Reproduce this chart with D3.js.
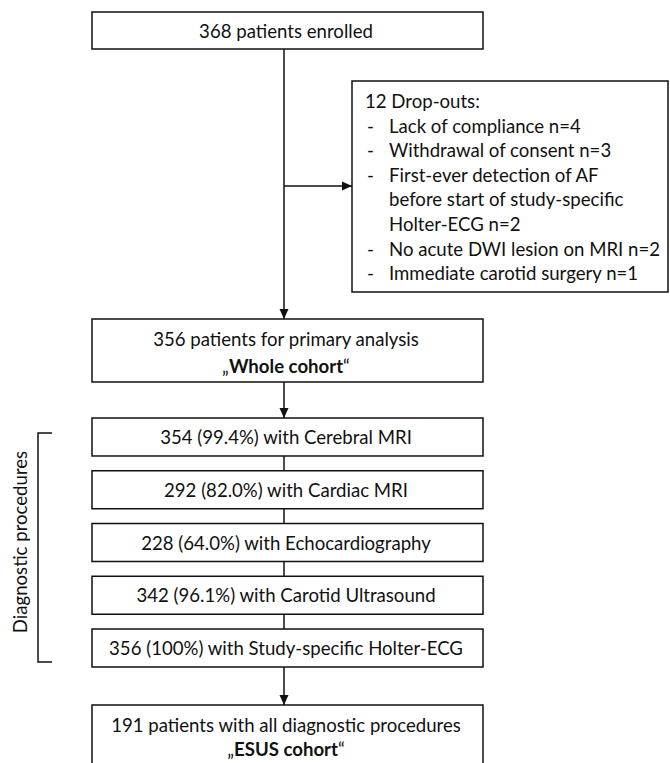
<!DOCTYPE html>
<meta charset="utf-8">
<style>
  body { margin: 0; background: #fff; }
  svg text { font-family: Lato, "Open Sans", sans-serif; fill: #111; }
</style>
<body>
<div class="chart"></div>
<script src="https://cdn.jsdelivr.net/npm/d3@7"></script>
<script>
// flowchart content
const enrolled = "368 patients enrolled";
const dropTitle = "12 Drop-outs:";
const dropReasons = [
    ["Lack of compliance n=4"],
    ["Withdrawal of consent n=3"],
    ["First-ever detection of AF", "before start of study-specific", "Holter-ECG n=2"],
    ["No acute DWI lesion on MRI n=2"],
    ["Immediate carotid surgery n=1"]
];
const primary = ["356 patients for primary analysis", "Whole cohort"];
const diagCounts = [354, 292, 228, 342, 356];
const diagPercents = ["99.4%", "82.0%", "64.0%", "96.1%", "100%"];
const diagLabels = ["Cerebral MRI", "Cardiac MRI", "Echocardiography", "Carotid Ultrasound", "Study-specific Holter-ECG"];
const bracketLabel = "Diagnostic procedures";
const esus = ["191 patients with all diagnostic procedures", "ESUS cohort"];

const width = 670, height = 763;
const fontSize = 18.6;
const boxLeft = 92, boxRight = 483;
const cx = 284;

const svg = d3.select(".chart").append("svg")
    .attr("width", width)
    .attr("height", height);

svg.append("defs").append("marker")
    .attr("id", "arrow")
    .attr("viewBox", "0 0 10 10")
    .attr("refX", 10).attr("refY", 5)
    .attr("markerWidth", 10).attr("markerHeight", 10)
    .attr("markerUnits", "userSpaceOnUse")
    .attr("orient", "auto")
    .append("path")
    .attr("d", "M0,0.5L10,5L0,9.5Z")
    .attr("fill", "#111");

const lines = svg.append("g").attr("stroke", "#111").attr("stroke-width", 1.5).attr("fill", "none");
const boxes = svg.append("g");

function box(x0, y0, x1, y1) {
    boxes.append("rect")
        .attr("x", x0).attr("y", y0)
        .attr("width", x1 - x0).attr("height", y1 - y0)
        .attr("fill", "#fff").attr("stroke", "#111").attr("stroke-width", 1.5);
}
function centerText(y, str, bold) {
    const t = boxes.append("text")
        .attr("x", cx + 2).attr("y", y)
        .attr("text-anchor", "middle")
        .attr("dominant-baseline", "central")
        .style("font-size", fontSize + "px");
    if (bold) {
        t.append("tspan").text("\u201E");
        t.append("tspan").style("font-weight", "bold").text(str);
        t.append("tspan").text("\u201C");
    } else t.text(str);
}
function arrow(x1, y1, x2, y2) {
    lines.append("line")
        .attr("x1", x1).attr("y1", y1).attr("x2", x2).attr("y2", y2)
        .attr("marker-end", "url(#arrow)");
}

// top box
box(boxLeft, 12, boxRight, 49);
centerText(31, enrolled);

// main arrow to primary analysis, with side arrow to drop-outs
arrow(cx, 49, cx, 319);
arrow(cx, 186, 352, 186);

// drop-out box
const dropTop = 81, dropBottom = 292, lh = 24.6;
box(352, dropTop, 668, dropBottom);
const dropText = boxes.append("g").style("font-size", fontSize + "px");
dropText.append("text").attr("x", 365).attr("y", 101)
    .attr("dominant-baseline", "central").text(dropTitle);
let row = 1;
dropReasons.forEach(r => {
    dropText.append("text").attr("x", 367).attr("y", 101 + row * lh)
        .attr("dominant-baseline", "central").text("-");
    r.forEach(s => {
        dropText.append("text").attr("x", 389).attr("y", 101 + row * lh)
            .attr("dominant-baseline", "central").text(s);
        row++;
    });
});

// primary analysis box
box(boxLeft, 319, boxRight, 382);
centerText(339, primary[0]);
centerText(366, primary[1], true);

// diagnostic procedures
const y = d3.scaleBand()
    .domain(diagLabels)
    .range([418, 667])
    .paddingInner(0.28);

arrow(cx, 382, cx, y(diagLabels[0]));
diagLabels.forEach((lab, i) => {
    if (i > 0) {
        lines.append("line")
            .attr("x1", cx).attr("x2", cx)
            .attr("y1", y(diagLabels[i - 1]) + y.bandwidth())
            .attr("y2", y(lab));
    }
    box(boxLeft, y(lab), boxRight, y(lab) + y.bandwidth());
    centerText(y(lab) + y.bandwidth() / 2, `${diagCounts[i]} (${diagPercents[i]}) with ${lab}`);
});

// bracket
lines.append("path")
    .attr("d", "M52,433H38V662H52");
svg.append("text")
    .attr("transform", "translate(20,542) rotate(-90)")
    .attr("text-anchor", "middle")
    .attr("dominant-baseline", "central")
    .style("font-size", fontSize + "px")
    .text(bracketLabel);

// final box
const last = diagLabels[diagLabels.length - 1];
arrow(cx, y(last) + y.bandwidth(), cx, 705);
box(boxLeft, 705, boxRight, 790);
centerText(725, esus[0]);
centerText(749, esus[1], true);
</script>
</body>
